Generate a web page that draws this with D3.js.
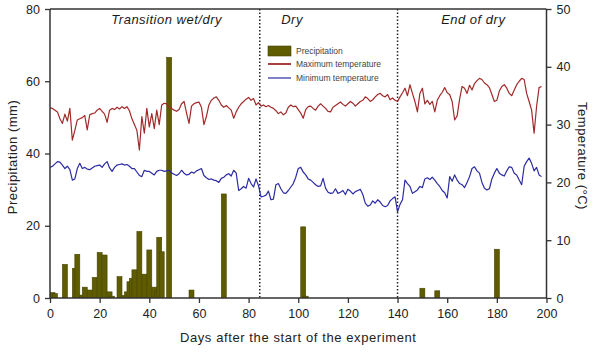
<!DOCTYPE html>
<html><head><meta charset="utf-8">
<script src="https://cdn.jsdelivr.net/npm/d3@7"></script>
<style>
body{margin:0;background:#fff;}
svg{display:block;font-family:"Liberation Sans",Arial,sans-serif;}
</style></head>
<body><svg id="c" width="600" height="353"></svg>
<script>
const xTicks = [0,20,40,60,80,100,120,140,160,180,200];
const precipTicks = [0,20,40,60,80];
const tempTicks = [0,10,20,30,40,50];
const periodLabels = ["Transition wet/dry","Dry","End of dry"];
const periodCenters = [47,97.5,170.5];
const periodBounds = [84.5,140];
const legendLabels = ["Precipitation","Maximum temperature","Minimum temperature"];

const precipDays = [1,2,6,10,11,13,14,16,18,20,22,24,25,28,30,31,32,33,34,36,38,40,42,43,44,45,48,57,70,102,103,150,156,180];
const precipValues = [1.5,1.2,9.3,8.2,12.1,0.8,3.0,2.2,5.7,12.6,11.9,1.7,0.5,5.9,0.7,1.7,4.5,5.4,7.8,18.4,6.6,13.3,3.0,2.0,16.8,12.8,66.6,2.2,28.8,19.7,0.5,2.7,2.0,13.5];

const tmax = [32.9,32.8,32.5,32.2,31.0,30.2,31.8,30.6,32.8,27.3,
29.0,30.8,31.0,31.2,31.6,29.1,31.7,31.9,32.0,32.5,
32.8,32.3,31.8,30.4,32.5,32.8,32.6,33.0,32.7,33.1,
32.8,33.1,32.4,31.0,30.0,29.0,25.6,31.4,28.5,32.8,
29.6,31.9,29.3,32.5,30.0,33.4,33.7,33.6,33.0,32.8,
32.5,32.3,32.6,33.6,34.0,32.0,30.2,33.2,33.6,33.8,
33.9,33.0,30.0,31.4,33.4,34.2,34.6,34.8,34.2,33.4,
33.0,33.3,32.9,32.5,31.1,32.2,33.0,33.6,34.0,34.4,
34.7,34.2,34.5,33.4,33.8,33.2,33.4,33.1,33.3,33.0,
32.8,32.4,31.9,32.2,31.7,32.0,33.0,33.4,33.1,33.2,
32.6,32.0,31.1,32.6,33.1,33.2,32.8,32.5,33.2,33.6,
33.2,32.8,32.3,32.2,33.0,33.3,33.6,33.9,33.5,33.2,
33.6,34.0,33.7,33.2,33.6,34.0,34.2,34.8,34.5,34.0,
34.3,34.8,35.2,35.4,35.0,34.8,35.2,34.3,34.6,34.2,
34.0,34.8,35.5,36.3,35.0,36.9,35.4,34.0,32.2,35.4,
36.3,33.6,34.2,33.5,34.0,32.2,34.2,35.0,35.6,36.4,
35.5,35.2,34.0,30.8,31.5,34.4,36.6,36.3,35.4,36.8,
36.0,37.1,37.6,38.0,37.8,37.2,36.9,36.4,35.2,34.0,
34.2,35.8,36.6,36.9,36.3,35.4,35.0,36.0,36.9,37.5,
38.0,37.8,35.4,34.0,32.5,28.5,33.1,36.4,36.6];

const tmin = [22.6,22.8,23.2,23.6,23.5,23.0,22.4,22.8,22.2,20.4,
20.6,22.4,23.3,22.4,22.6,22.3,22.2,22.5,22.8,22.9,
23.0,22.6,23.2,23.6,22.5,21.9,22.6,23.0,23.1,23.2,
23.0,23.1,22.8,22.4,22.4,21.8,21.2,21.0,22.1,21.9,
21.9,21.6,21.3,21.9,22.1,22.1,21.9,22.0,22.1,21.6,
21.4,21.2,21.5,22.1,21.6,21.3,21.4,21.8,21.6,22.0,
22.2,22.4,21.2,20.8,20.5,20.6,20.4,20.3,20.0,20.7,
20.9,21.3,21.5,21.1,22.1,21.6,18.6,18.9,19.3,19.0,
20.7,19.8,19.2,20.6,19.4,17.5,17.6,17.8,18.5,17.0,
17.1,19.6,19.8,18.9,18.2,18.1,18.6,19.2,19.8,20.9,
22.4,22.6,21.8,21.3,20.6,20.4,20.0,19.6,19.3,19.4,
20.7,19.0,18.3,18.1,18.2,18.9,18.1,18.3,18.6,17.9,
18.8,18.5,18.0,18.4,18.6,18.8,17.9,16.4,15.9,16.1,
16.8,16.4,17.0,16.6,16.0,15.8,16.0,16.8,17.2,17.5,
14.9,16.2,17.0,20.4,19.8,19.3,18.1,18.4,18.7,19.3,
19.1,20.6,20.8,20.5,20.9,20.4,19.8,19.3,18.6,18.2,
17.3,21.0,20.2,21.3,20.4,19.8,19.6,19.1,20.0,21.0,
22.4,22.7,22.0,21.6,20.0,19.0,18.7,18.9,20.6,21.6,
22.4,21.6,21.3,21.1,22.0,22.7,22.6,21.6,21.3,20.4,
19.6,22.8,23.6,24.2,23.3,22.0,22.6,21.3,21.0];

const W=600,H=353, L=50, R=546.5, T=9, B=298;
const svg = d3.select("#c");
svg.append("rect").attr("width",W).attr("height",H).attr("fill","#fff");

const x = d3.scaleLinear().domain([0,200]).range([L,R]);
const yP = d3.scaleLinear().domain([0,80]).range([B,T]);
const yT = d3.scaleLinear().domain([0,50]).range([B,T]);

svg.append("clipPath").attr("id","clip").append("rect")
  .attr("x",L).attr("y",T).attr("width",R-L).attr("height",B-T);

const plot = svg.append("g").attr("clip-path","url(#clip)");

// bars
const bw = x(2)-x(0);
plot.selectAll("rect.bar").data(precipDays.map((d,i)=>({d, v:precipValues[i]})))
  .join("rect").attr("class","bar")
  .attr("x",d=>x(d.d)-bw/2).attr("width",bw)
  .attr("y",d=>yP(d.v)).attr("height",d=>yP(0)-yP(d.v))
  .attr("fill","#5f5c00").attr("stroke","#464400").attr("stroke-width",0.6);

// period separators
plot.selectAll("line.sep").data(periodBounds).join("line").attr("class","sep")
  .attr("x1",d=>x(d)).attr("x2",d=>x(d)).attr("y1",T).attr("y2",B)
  .attr("stroke","#222").attr("stroke-width",1.5).attr("stroke-dasharray","1.5,2");

// lines
const line = (sc)=>d3.line().x((d,i)=>x(i)).y(d=>sc(d));
plot.append("path").datum(tmax).attr("d",line(yT)).attr("fill","none")
  .attr("stroke","#a12a2a").attr("stroke-width",1.2).attr("stroke-linejoin","round");
plot.append("path").datum(tmin).attr("d",line(yT)).attr("fill","none")
  .attr("stroke","#2b2ba3").attr("stroke-width",1.2).attr("stroke-linejoin","round");

// axes
const axCol="#333";
const gx = svg.append("g").attr("transform",`translate(0,${B})`)
  .call(d3.axisBottom(x).tickValues(xTicks).tickSize(5).tickPadding(6));
const gl = svg.append("g").attr("transform",`translate(${L},0)`)
  .call(d3.axisLeft(yP).tickValues(precipTicks).tickSize(5).tickPadding(5));
const gr = svg.append("g").attr("transform",`translate(${R},0)`)
  .call(d3.axisRight(yT).tickValues(tempTicks).tickSize(5).tickPadding(5));
[gx,gl,gr].forEach(g=>{
  g.select(".domain").attr("stroke",axCol).attr("stroke-width",1.5);
  g.selectAll(".tick line").attr("stroke",axCol).attr("stroke-width",1.3);
  g.selectAll(".tick text").attr("fill","#222").attr("font-size",12.5)
   .attr("font-family","Liberation Sans, Arial, sans-serif");
});
gl.select(".domain").attr("d",`M0,${T}V${B}`);
gr.select(".domain").attr("d",`M0,${T}V${B}`);
gx.select(".domain").attr("d",`M${L},0H${R}`);
svg.append("line").attr("x1",L).attr("x2",R).attr("y1",T).attr("y2",T)
  .attr("stroke",axCol).attr("stroke-width",1.5);

// period labels
svg.selectAll("text.per").data(periodLabels).join("text").attr("class","per")
  .attr("x",(d,i)=>x(periodCenters[i])).attr("y",24)
  .attr("text-anchor","middle").attr("font-size",13).attr("letter-spacing",0.5)
  .attr("font-style","italic").attr("fill","#1a1a1a").text(d=>d);

// axis titles
svg.append("text").attr("transform","translate(17,157) rotate(-90)")
  .attr("text-anchor","middle").attr("font-size",13).attr("letter-spacing",0.5)
  .attr("fill","#222").text("Precipitation (mm)");
svg.append("text").attr("transform","translate(578,156) rotate(90)")
  .attr("text-anchor","middle").attr("font-size",13).attr("letter-spacing",0.5)
  .attr("fill","#222").text("Temperature (°C)");
svg.append("text").attr("x",x(100)).attr("y",342)
  .attr("text-anchor","middle").attr("font-size",13).attr("letter-spacing",0.6)
  .attr("fill","#222").text("Days after the start of the experiment");

// legend
const lg = svg.append("g");
lg.append("rect").attr("x",268).attr("y",46).attr("width",23).attr("height",10)
  .attr("fill","#5f5c00").attr("stroke","#464400").attr("stroke-width",0.6);
lg.append("line").attr("x1",268).attr("x2",291).attr("y1",64).attr("y2",64)
  .attr("stroke","#a12a2a").attr("stroke-width",1.8);
lg.append("line").attr("x1",268).attr("x2",291).attr("y1",78).attr("y2",78)
  .attr("stroke","#2b2ba3").attr("stroke-width",1.2);
lg.selectAll("text").data(legendLabels).join("text")
  .attr("x",296).attr("y",(d,i)=>[51,64,78][i]).attr("dy","0.35em")
  .attr("font-size",8.5).attr("fill","#444").text(d=>d);
</script></body></html>
